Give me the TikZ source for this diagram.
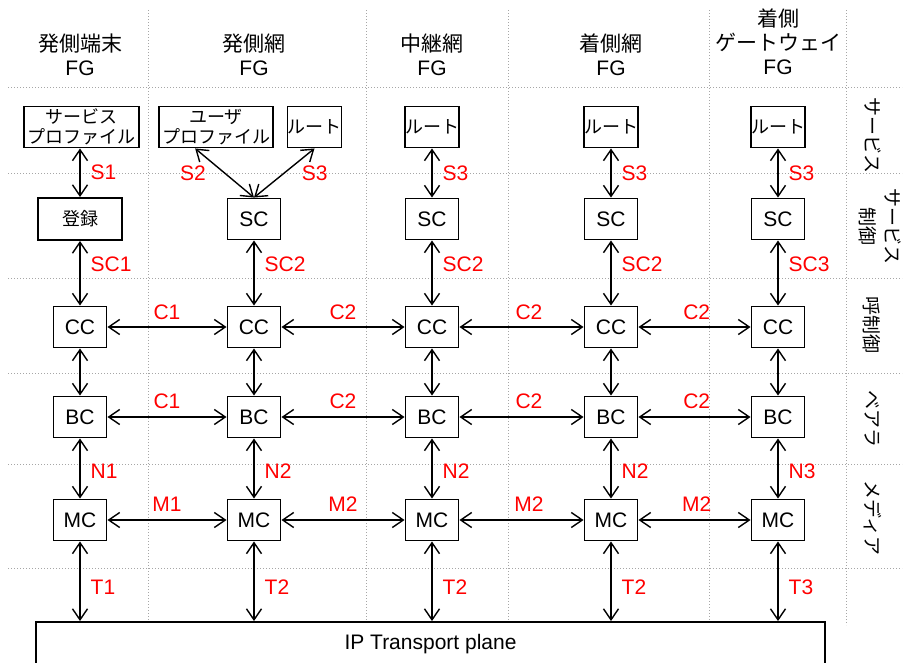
\documentclass[tikz,border=0pt]{standalone}
\usepackage{fontspec}
\setmainfont{Liberation Sans}
\newfontfamily\jp{Noto Sans CJK JP}
\usetikzlibrary{arrows.meta,calc}
\begin{document}
\begin{tikzpicture}[x=1pt,y=-1pt,
 gridline/.style={draw=black!35, line width=1pt, dash pattern=on 1pt off 2pt},
 box/.style={draw, line width=1.9pt, fill=white, minimum width=53pt, minimum height=41pt, inner sep=0pt, font=\fontsize{21}{24}\selectfont},
 jbox/.style={box, font=\jp\fontsize{18}{20}\selectfont, align=center},
 arr/.style={line width=1.4pt, {Straight Barb[length=11pt,width=15pt]}-{Straight Barb[length=11pt,width=15pt]}},
 lab/.style={text=red, inner sep=0pt, font=\fontsize{21}{24}\selectfont},
 head/.style={align=center, font=\fontsize{21}{24}\selectfont, inner sep=0pt},
 side/.style={rotate=-90, align=center, font=\jp\fontsize{19}{25}\selectfont, inner sep=0pt}]
\clip (0,0) rectangle (907,662);
% grid
\foreach \x in {148,366,508,709} \draw[gridline] (\x,10) -- (\x,622);
\draw[gridline] (846,10) -- (846,625);
\foreach \y in {87,173,278,373,464,568} \draw[gridline] (8,\y) -- (902,\y);
% headers
\node[head] (h1) at (80,54.5) {{\jp 発側端末}\\FG};
\node[head] (h2) at (254,54.5) {{\jp 発側網}\\FG};
\node[head] (h3) at (432,54.5) {{\jp 中継網}\\FG};
\node[head] (h4) at (611,54.5) {{\jp 着側網}\\FG};
\node[head] (h5) at (778,42) {{\jp 着側}\\{\jp ゲートウェイ}\\FG};
% side labels
\node[side] (l1) at (873,135) {サービス};
\node[side] (l2) at (880.5,226) {サービス\\制御};
\node[side] (l3) at (872,325) {呼制御};
\node[side] (l4) at (872,419) {ベアラ};
\node[side] (l5) at (873,518) {メディア};
% top boxes
\node[jbox, minimum width=115pt] (p1) at (81.5,127) {サービス\\プロファイル};
\node[jbox, minimum width=114pt] (up2) at (216,127) {ユーザ\\プロファイル};
\node[jbox] (rt2) at (314.5,127) {ルート};
\node[jbox] (rt3) at (432,127) {ルート};
\node[jbox] (rt4) at (611,127) {ルート};
\node[jbox] (rt5) at (778,127) {ルート};
% SC row
\node[jbox, minimum width=84pt, minimum height=42pt] (sc1) at (80,219) {登録};
\node[box] (sc2) at (254,219) {SC};
\node[box] (sc3) at (432,219) {SC};
\node[box] (sc4) at (611,219) {SC};
\node[box] (sc5) at (778,219) {SC};
% CC, BC, MC rows
\foreach \i/\x in {1/80,2/254,3/432,4/611,5/778}{
  \node[box] (cc\i) at (\x,327) {CC};
  \node[box] (bc\i) at (\x,417) {BC};
  \node[box] (mc\i) at (\x,520) {MC};
}
% IP plane
\node[draw, line width=1.9pt, fill=white, minimum width=789pt, minimum height=44pt, inner sep=0pt, font=\fontsize{21}{24}\selectfont] (ip) at (430.5,644) {IP Transport plane};
% service arrows
\draw[arr] (sc1.north |- p1.south) -- (sc1.north) node[lab, right=10pt, midway] {S1};
\draw[arr] ($(up2.south west)!0.32!(up2.south east)$) -- (sc2.north) node[lab, left=18pt, midway] {S2};
\draw[arr] (rt2.south) -- (sc2.north) node[lab, right=17pt, midway] {S3};
\foreach \i in {3,4,5} \draw[arr] (rt\i.south) -- (sc\i.north) node[lab, right=10pt, midway] {S3};
% SC - CC
\foreach \i/\t in {1/SC1,2/SC2,3/SC2,4/SC2,5/SC3}
  \draw[arr] (sc\i.south) -- (cc\i.north) node[lab, right=10pt, pos=0.36] {\t};
% CC - BC
\foreach \i in {1,...,5} \draw[arr] (cc\i.south) -- (bc\i.north);
% BC - MC
\foreach \i/\t in {1/N1,2/N2,3/N2,4/N2,5/N3}
  \draw[arr] (bc\i.south) -- (mc\i.north) node[lab, right=10pt, pos=0.55] {\t};
% MC - IP
\foreach \i/\t in {1/T1,2/T2,3/T2,4/T2,5/T3}
  \draw[arr] (mc\i.south) -- (mc\i.south |- ip.north) node[lab, right=10pt, pos=0.57] {\t};
% horizontal
\foreach \a/\b/\c/\m/\p in {1/2/C1/M1/0.5,2/3/C2/M2/0.5,3/4/C2/M2/0.56,4/5/C2/M2/0.52}{
  \draw[arr] (cc\a.east) -- (cc\b.west) node[lab, above=7pt, pos=\p] {\c};
  \draw[arr] (bc\a.east) -- (bc\b.west) node[lab, above=8pt, pos=\p] {\c};
  \draw[arr] (mc\a.east) -- (mc\b.west) node[lab, above=8pt, pos=\p] {\m};
}
\end{tikzpicture}
\end{document}
